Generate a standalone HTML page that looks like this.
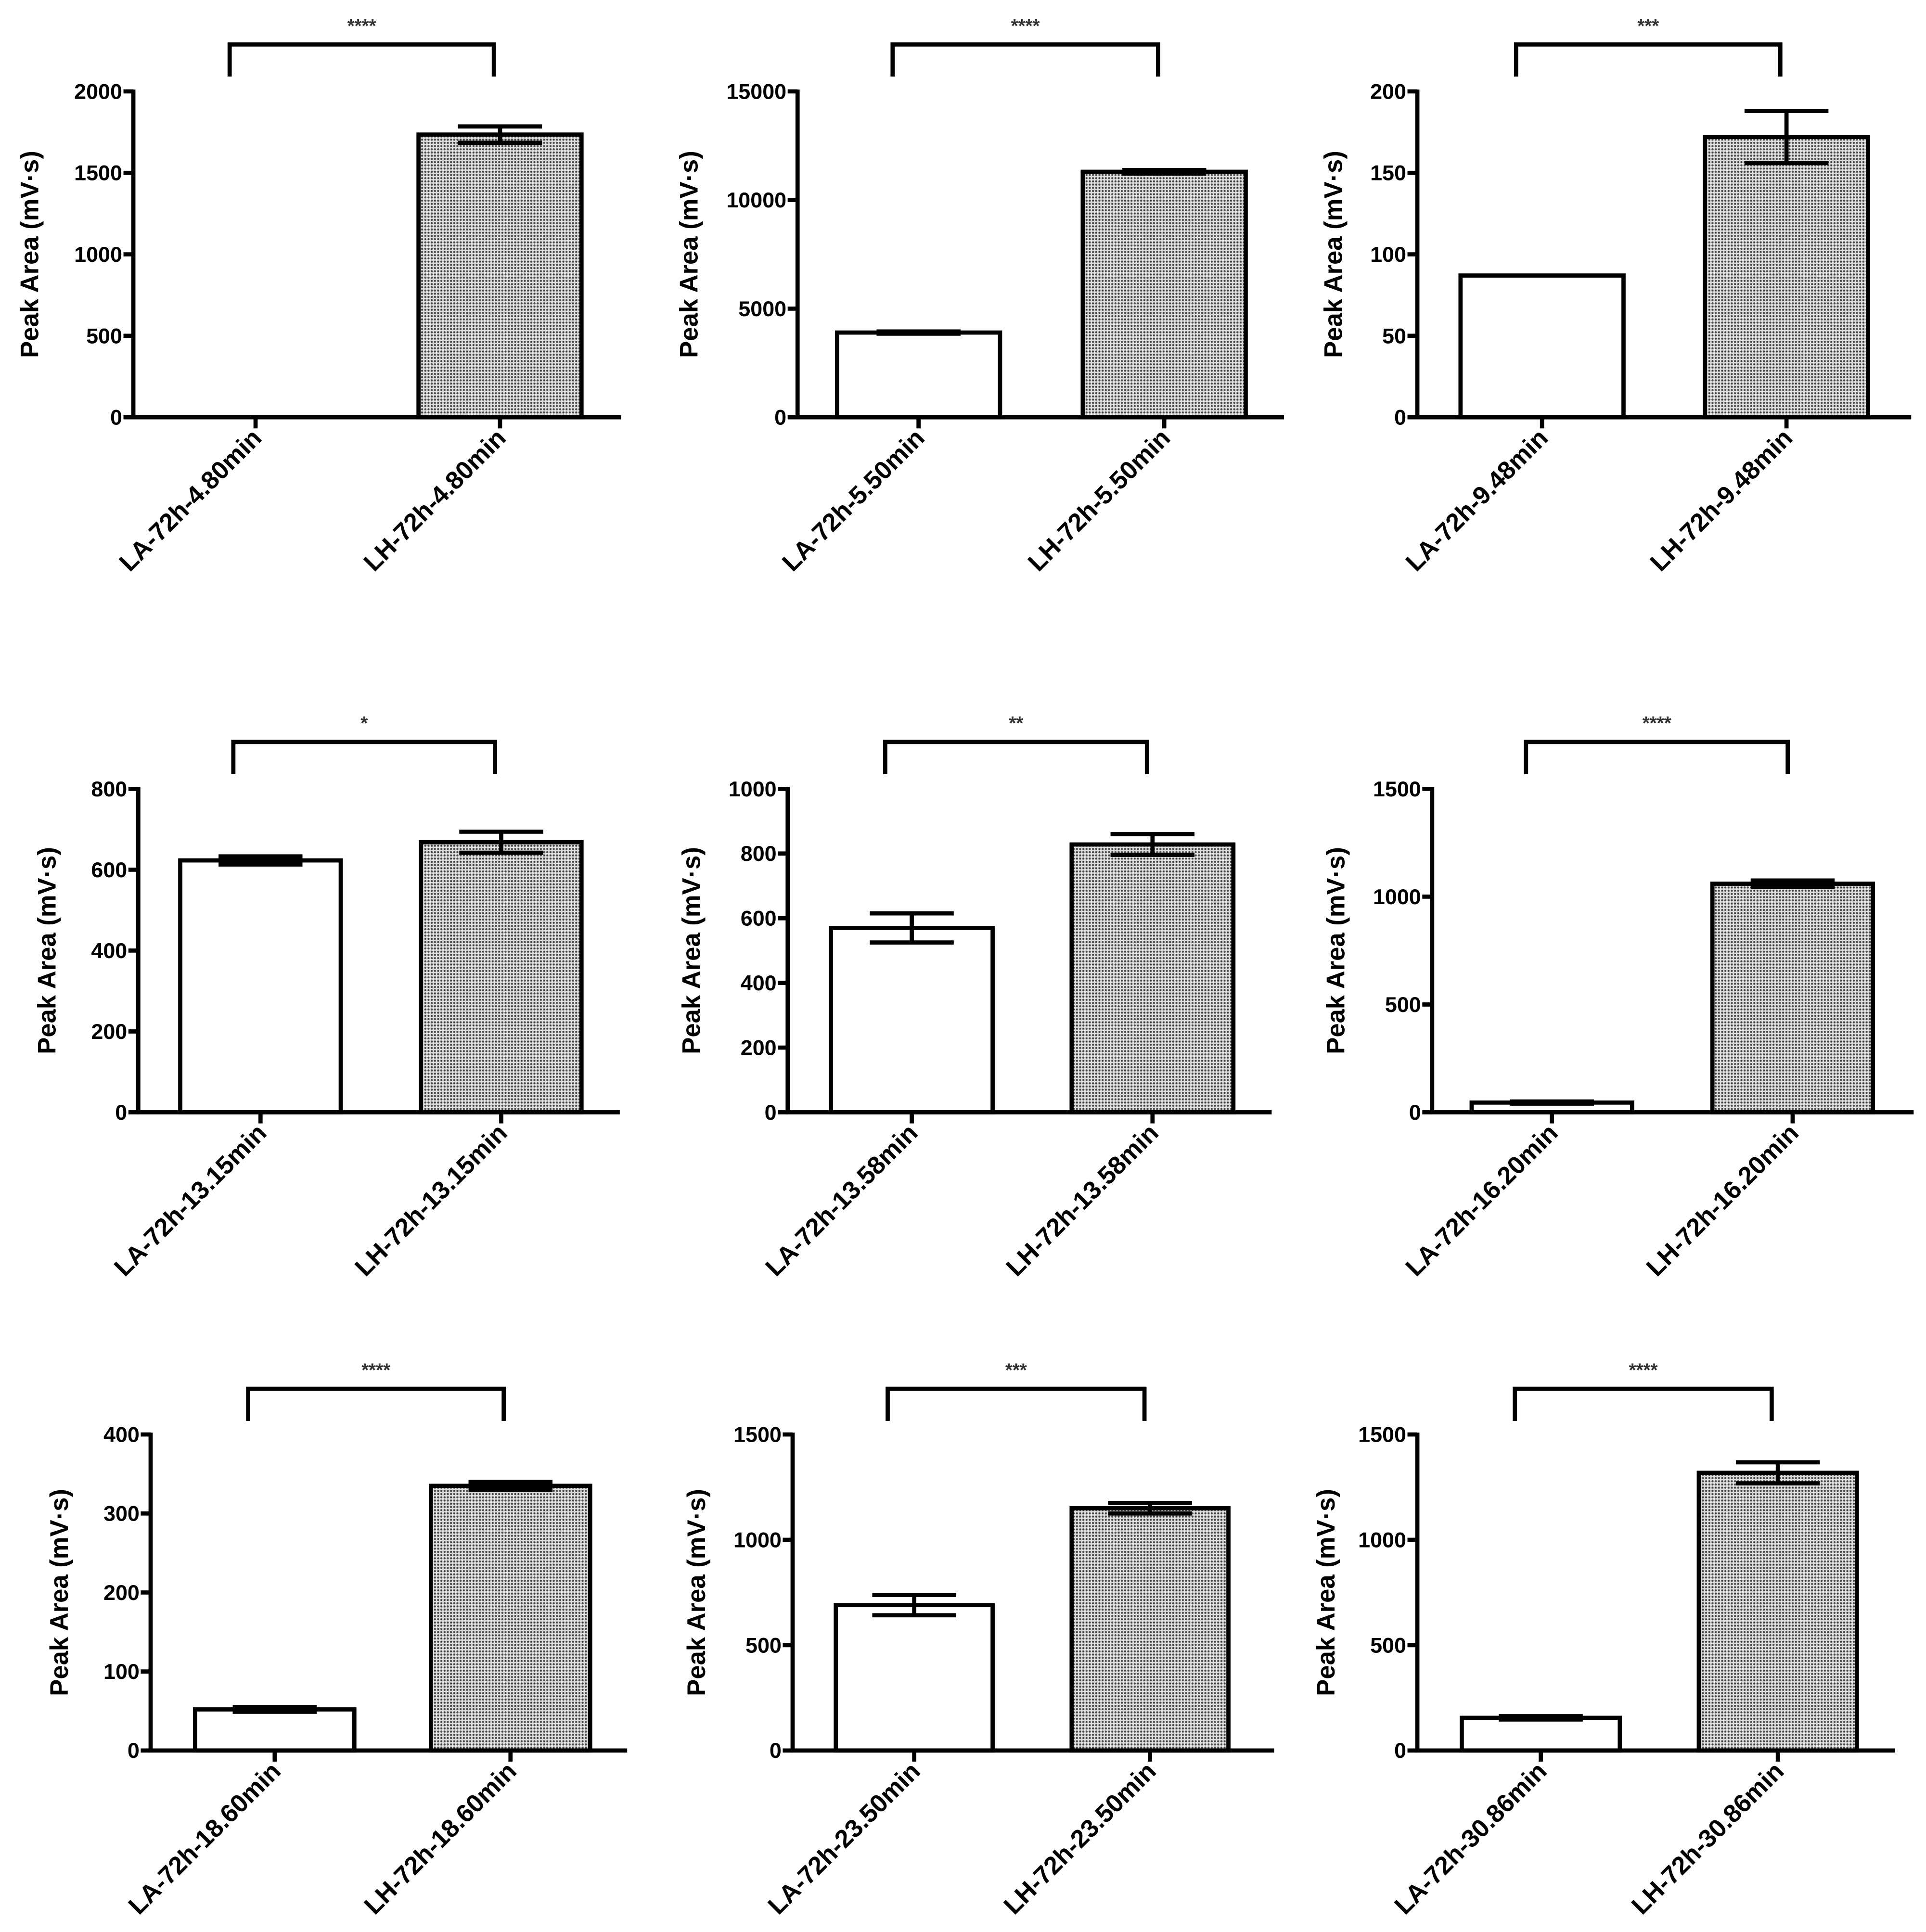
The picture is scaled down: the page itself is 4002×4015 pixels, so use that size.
<!DOCTYPE html>
<html><head><meta charset="utf-8"><style>
html,body{margin:0;padding:0;background:#fff;}
svg{display:block;}
text{font-family:"Liberation Sans",Arial,sans-serif;font-weight:bold;fill:#000;}
</style></head><body>
<svg id="fig" xmlns="http://www.w3.org/2000/svg" width="4002" height="4015" viewBox="0 0 1560 1565">
<defs>
<pattern id="dots" width="2.6" height="2.6" patternUnits="userSpaceOnUse">
<rect width="2.6" height="2.6" fill="#e0e0e0"/>
<circle cx="1.3" cy="1.3" r="0.85" fill="#444"/>
</pattern>
</defs>
<rect width="1560" height="1565" fill="#fff"/>
</svg>
<script>
// Data arrays
var categories = [
 ["LA-72h-4.80min","LH-72h-4.80min"],
 ["LA-72h-5.50min","LH-72h-5.50min"],
 ["LA-72h-9.48min","LH-72h-9.48min"],
 ["LA-72h-13.15min","LH-72h-13.15min"],
 ["LA-72h-13.58min","LH-72h-13.58min"],
 ["LA-72h-16.20min","LH-72h-16.20min"],
 ["LA-72h-18.60min","LH-72h-18.60min"],
 ["LA-72h-23.50min","LH-72h-23.50min"],
 ["LA-72h-30.86min","LH-72h-30.86min"]
];
var laValues = [0, 3900, 87, 623, 570, 45, 52, 690, 155];
var lhValues = [1735, 11300, 172, 668, 828, 1060, 335, 1150, 1318];
var laErrors = [0, 50, 0, 10, 45, 5, 3, 48, 8];
var lhErrors = [50, 80, 16, 26, 32, 15, 5, 25, 50];
var yMaxes = [2000, 15000, 200, 800, 1000, 1500, 400, 1500, 1500];
var yTickLabels = [
 [0,500,1000,1500,2000],
 [0,5000,10000,15000],
 [0,50,100,150,200],
 [0,200,400,600,800],
 [0,200,400,600,800,1000],
 [0,500,1000,1500],
 [0,100,200,300,400],
 [0,500,1000,1500],
 [0,500,1000,1500]
];
var significance = ["****","****","***","*","**","****","****","***","****"];

// Layout (not data)
var layout = [
 {ax:108,x1:339,x0:141,bw:132,top:74,base:338,end:503,br:36,bl:186,brr:400,lx:24},
 {ax:646,x1:877,x0:678,bw:132,top:74,base:338,end:1040,br:36,bl:723,brr:938,lx:558},
 {ax:1148,x1:1381,x0:1183,bw:132,top:74,base:338,end:1548,br:36,bl:1228,brr:1442,lx:1080},
 {ax:112,x1:341,x0:146,bw:130,top:639,base:901,end:502,br:601,bl:189,brr:401,lx:38},
 {ax:638,x1:868,x0:673,bw:131,top:639,base:901,end:1030,br:601,bl:717,brr:929,lx:560},
 {ax:1160,x1:1387,x0:1192,bw:130,top:639,base:901,end:1550,br:601,bl:1236,brr:1448,lx:1082},
 {ax:122,x1:349,x0:158,bw:129,top:1162,base:1418,end:508,br:1125,bl:201,brr:408,lx:48},
 {ax:642,x1:868,x0:677,bw:127,top:1162,base:1418,end:1032,br:1125,bl:719,brr:927,lx:564},
 {ax:1148,x1:1376,x0:1184,bw:128,top:1162,base:1418,end:1535,br:1125,bl:1227,brr:1435,lx:1074}
];
var NS="http://www.w3.org/2000/svg";
var svg=document.getElementById('fig');
function mk(tag,attrs,parent){var e=document.createElementNS(NS,tag);for(var k in attrs)e.setAttribute(k,attrs[k]);(parent||svg).appendChild(e);return e;}
var SW=3.4;
for(var i=0;i<9;i++){
 var L=layout[i];
 var g=mk('g',{});
 
 
 var yMax=yMaxes[i];
 var yScale=(function(L,yMax){return function(v){return L.base-(v/yMax)*(L.base-L.top);};})(L,yMax);
 var xs=[L.x0, L.x1];
 var vals=[laValues[i], lhValues[i]];
 var errs=[laErrors[i], lhErrors[i]];
 for(var b=0;b<2;b++){
  var yv=yScale(vals[b]);
  if(vals[b]>0){
   var r=mk('rect',{x:xs[b],y:yv,width:L.bw,height:L.base-yv,fill:b?'url(#dots)':'#fff',stroke:'#000','stroke-width':SW},g);
   
   
  }
  if(errs[b]>0){
   var cx=xs[b]+L.bw/2, yt=yScale(vals[b]+errs[b]), yb=yScale(vals[b]-errs[b]);
   var eg=mk('g',{stroke:'#000','stroke-width':SW},g);
   
   
   mk('line',{x1:cx,x2:cx,y1:yt,y2:yb},eg);
   mk('line',{x1:cx-34,x2:cx+34,y1:yt,y2:yt},eg);
   mk('line',{x1:cx-34,x2:cx+34,y1:yb,y2:yb},eg);
  }
 }
 var ya=mk('line',{x1:L.ax,x2:L.ax,y1:L.top-1.5,y2:L.base+1.5,stroke:'#000','stroke-width':SW},g);
 
 
 var xa=mk('line',{x1:L.ax-1.5,x2:L.end,y1:L.base,y2:L.base,stroke:'#000','stroke-width':SW},g);
 
 
 var ticks=yTickLabels[i];
 for(var t=0;t<ticks.length;t++){
  var ty=yScale(ticks[t]);
  mk('line',{x1:L.ax-8,x2:L.ax,y1:ty,y2:ty,stroke:'#000','stroke-width':SW},g);
  var tl=mk('text',{x:L.ax-9,y:ty+6,'text-anchor':'end','font-size':17.5},g);
  tl.textContent=ticks[t];
  
  
 }
 for(var b=0;b<2;b++){
  var cx=xs[b]+L.bw/2;
  mk('line',{x1:cx,x2:cx,y1:L.base,y2:L.base+9,stroke:'#000','stroke-width':SW},g);
  var xl=mk('text',{x:cx+6,y:L.base+18,'text-anchor':'end','font-size':20.5,transform:'rotate(-45 '+(cx+6)+' '+(L.base+18)+')'},g);
  xl.textContent=categories[i][b];
  
  
 }
 var cy=(L.top+L.base)/2;
 var yt2=mk('text',{x:L.lx+7,y:cy,'text-anchor':'middle','font-size':20.5,transform:'rotate(-90 '+(L.lx+7)+' '+cy+')'},g);
 yt2.textContent='Peak Area (mV\u00b7s)';
 
 
 var bp=mk('path',{d:'M'+L.bl+' '+(L.br+26)+' V'+L.br+' H'+L.brr+' V'+(L.br+26),fill:'none',stroke:'#000','stroke-width':SW},g);
 
 
 var st=mk('text',{x:(L.bl+L.brr)/2,y:L.br-10,'text-anchor':'middle','font-size':15,style:'fill:#333'},g);
 st.textContent=significance[i];
 
 
}
</script>
</body></html>
